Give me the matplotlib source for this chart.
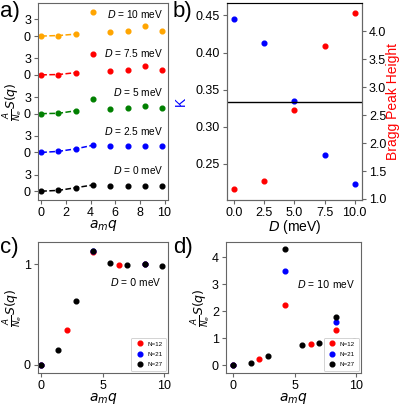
import matplotlib
matplotlib.use("Agg")
import matplotlib.pyplot as plt

plt.rcParams['font.family'] = ['Liberation Sans', 'DejaVu Sans']
plt.rcParams['mathtext.fontset'] = 'dejavusans'
plt.rcParams['font.size'] = 9

# --- data ---
q = [0.0, 1.4, 2.8, 4.2, 5.6, 7.0, 8.4, 9.8]
D_vals = [0, 2.5, 5, 7.5, 10]
D_colors = ['black', 'blue', 'green', 'red', 'orange']
S_D0 = [0.0, 0.15, 0.63, 1.13, 1.01, 0.99, 1.00, 0.98]
S_D25 = [0.0, 0.19, 0.65, 1.30, 1.10, 1.10, 1.10, 1.10]
S_D5 = [0.0, 0.06, 0.52, 2.57, 0.91, 0.97, 1.30, 0.97]
S_D75 = [0.0, 0.06, 0.40, 3.72, 0.78, 0.85, 1.56, 0.91]
S_D10 = [0.0, 0.10, 0.35, 4.30, 0.74, 0.83, 1.80, 0.92]
S_all = [S_D0, S_D25, S_D5, S_D75, S_D10]
n_dashed = [4, 4, 3, 3, 3]   # points joined by the dashed line
offset = 7

K_vals = [0.445, 0.413, 0.335, 0.262, 0.223]
bragg = [1.17, 1.32, 2.60, 3.74, 4.33]

# finite-size comparison, N = 12 / 21 / 27
q12 = [0.0, 2.1, 4.2, 6.3, 8.4]
q21 = [0.0, 4.2, 8.4]
S12_D0 = [0.0, 0.35, 1.12, 0.99, 1.00]
S21_D0 = [0.0, 1.13, 1.00]
S12_D10 = [0.0, 0.22, 2.25, 0.79, 1.30]
S21_D10 = [0.0, 3.50, 1.60]

spine_col = '#666666'
tick_fs = 9
lab_fs = 10
txt_fs = 7.3
sq_label = r'$\frac{A}{N_e}S(q)$'


def style(ax):
    for s in ax.spines.values():
        s.set_color(spine_col)
    ax.tick_params(colors=spine_col, labelcolor='black', labelsize=tick_fs,
                   length=3, pad=2)


fig = plt.figure(figsize=(3.99, 4.05), dpi=100)
ax_a = fig.add_axes([0.095, 0.506, 0.326, 0.487])
ax_b = fig.add_axes([0.569, 0.506, 0.338, 0.487])
ax_c = fig.add_axes([0.095, 0.079, 0.326, 0.3235])
ax_d = fig.add_axes([0.566, 0.079, 0.338, 0.3235])

# a) stacked S(q)
ms = 3.4
yt, ytl = [], []
for i, (D, S, c, nd) in enumerate(zip(D_vals, S_all, D_colors, n_dashed)):
    off = i * offset
    y = [v + off for v in S]
    ax_a.plot(q[:nd], y[:nd], '--', color=c, lw=1.1)
    ax_a.plot(q, y, 'o', color=c, ms=ms, ls='none')
    ax_a.text(9.9, off + 3.9, '$D$ = %g meV' % D, ha='right', va='center', fontsize=txt_fs)
    yt += [off, off + 3]
    ytl += ['0', '3']
ax_a.set_yticks(yt)
ax_a.set_yticklabels(ytl)
ax_a.set_xticks([0, 2, 4, 6, 8, 10])
ax_a.set_xlim(-0.27, 10.28)
ax_a.set_ylim(-1.6, 34.0)
ax_a.set_xlabel('$a_m q$', fontsize=lab_fs, labelpad=-1)
ax_a.set_ylabel(sq_label, fontsize=9, labelpad=-1)
style(ax_a)

# b) K and Bragg peak height vs D
ax_b.plot(D_vals, K_vals, 'o', color='blue', ms=ms)
ax_b.axhline(1 / 3, color='black', lw=1)
ax_b.set_xlim(-0.6, 10.6)
ax_b.set_ylim(0.201, 0.467)
ax_b.set_xticks([0, 2.5, 5, 7.5, 10])
ax_b.set_xticklabels(['0.0', '2.5', '5.0', '7.5', '10.0'])
ax_b.set_yticks([0.25, 0.30, 0.35, 0.40, 0.45])
ax_b.set_xlabel('$D$ (meV)', fontsize=lab_fs, labelpad=-1)
ax_b.set_ylabel('K', color='blue', fontsize=lab_fs, labelpad=6)
style(ax_b)
ax_b2 = ax_b.twinx()
ax_b2.plot(D_vals, bragg, 'o', color='red', ms=ms)
ax_b2.set_ylim(0.98, 4.51)
ax_b2.set_yticks([1.0, 1.5, 2.0, 2.5, 3.0, 3.5, 4.0])
ax_b2.set_ylabel('Bragg Peak Height', color='red', fontsize=lab_fs, labelpad=0)
style(ax_b2)
ax_b2.spines['top'].set_color('black')


def finite_size(ax, S12, S21, S27):
    ax.plot(q12, S12, 'o', color='red', ms=ms, label='N=12')
    ax.plot(q21, S21, 'o', color='blue', ms=ms, label='N=21')
    ax.plot(q, S27, 'o', color='black', ms=ms, label='N=27')
    ax.set_xticks([0, 5, 10])
    ax.set_xlabel('$a_m q$', fontsize=lab_fs, labelpad=-1)
    ax.set_ylabel(sq_label, fontsize=9, labelpad=-1)
    leg = ax.legend(loc='lower right', fontsize=4.5, handletextpad=0.4, borderpad=0.6,
                    labelspacing=0.8, handlelength=1.6, framealpha=1,
                    borderaxespad=0.3)
    leg.get_frame().set_linewidth(0.6)
    style(ax)


# c) D = 0
finite_size(ax_c, S12_D0, S21_D0, S_D0)
ax_c.set_xlim(-0.27, 10.3)
ax_c.set_ylim(-0.08, 1.22)
ax_c.set_yticks([0, 1])
ax_c.text(9.8, 0.82, '$D$ = $0$ meV', ha='right', va='center', fontsize=txt_fs)

# d) D = 10 meV
finite_size(ax_d, S12_D10, S21_D10, S_D10)
ax_d.set_xlim(-0.62, 10.38)
ax_d.set_ylim(-0.28, 4.57)
ax_d.set_yticks([0, 1, 2, 3, 4])
ax_d.text(9.9, 3.0, '$D$ = $10$ meV', ha='right', va='center', fontsize=txt_fs)

for lab, x, y in [('a)', 0.0, 0.997), ('b)', 0.433, 0.997),
                  ('c)', 0.0, 0.415), ('d)', 0.433, 0.415)]:
    fig.text(x, y, lab, fontsize=16, ha='left', va='top')

fig.savefig('out.png', dpi=100)
